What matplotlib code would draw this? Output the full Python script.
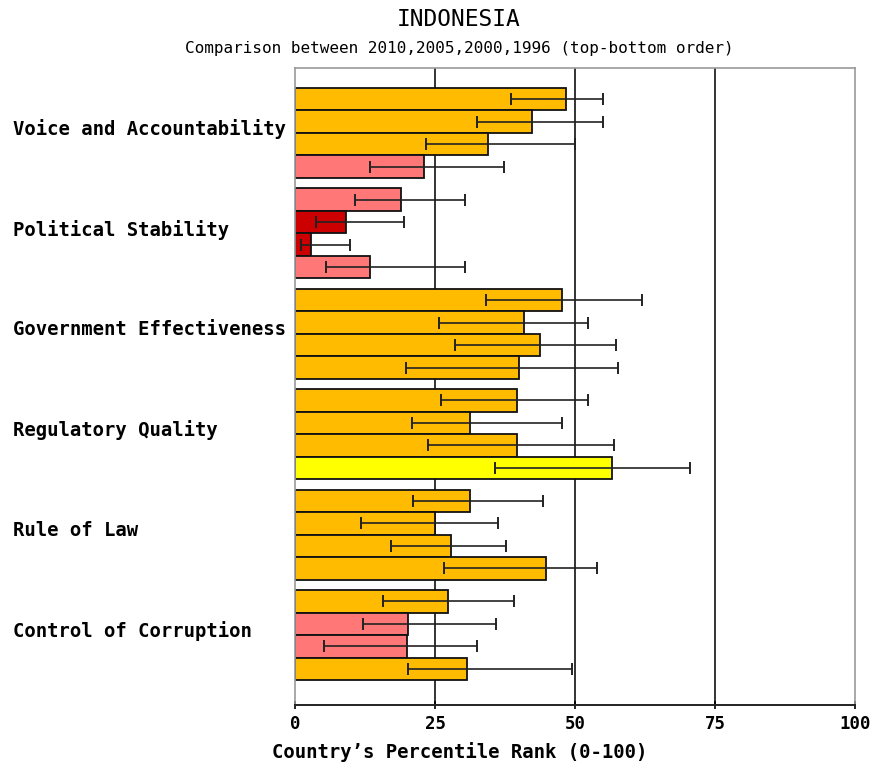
import numpy as np
import matplotlib.pyplot as plt
from matplotlib.transforms import blended_transform_factory

categories = ['Voice and Accountability', 'Political Stability',
              'Government Effectiveness', 'Regulatory Quality',
              'Rule of Law', 'Control of Corruption']
years = ['2010', '2005', '2000', '1996']

# percentile rank and its margin of error, per year (top-bottom order)
rank_2010 = [48.3, 18.8, 47.7, 39.6, 31.2, 27.2]
low_2010 = [38.5, 10.7, 34.1, 26.0, 21.1, 15.6]
high_2010 = [54.9, 30.4, 61.9, 52.3, 44.2, 39.1]

rank_2005 = [42.3, 9.0, 40.8, 31.2, 25.0, 20.2]
low_2005 = [32.4, 3.7, 25.7, 20.8, 11.8, 12.1]
high_2005 = [54.9, 19.4, 52.3, 47.7, 36.2, 35.9]

rank_2000 = [34.4, 2.85, 43.7, 39.6, 27.8, 19.9]
low_2000 = [23.4, 0.95, 28.6, 23.7, 17.1, 5.2]
high_2000 = [50.0, 9.8, 57.3, 57.0, 37.6, 32.4]

rank_1996 = [22.9, 13.3, 39.9, 56.6, 44.8, 30.7]
low_1996 = [13.3, 5.5, 19.7, 35.6, 26.6, 20.2]
high_1996 = [37.3, 30.4, 57.6, 70.6, 54.0, 49.5]

ranks = [rank_2010, rank_2005, rank_2000, rank_1996]
lows = [low_2010, low_2005, low_2000, low_1996]
highs = [high_2010, high_2005, high_2000, high_1996]


def rank_color(v):
    if v < 10:
        return '#cc0000'
    if v < 25:
        return '#ff7777'
    if v < 50:
        return '#ffbb00'
    if v < 75:
        return '#ffff00'
    return '#00cc00'


MONO = 'DejaVu Sans Mono'
bar_h = 0.224

fig = plt.figure(figsize=(8.74, 7.65), dpi=100)
ax = fig.add_axes([0.338, 0.0784, 0.640, 0.8327])

for j in range(len(years)):
    r = np.array(ranks[j])
    lo = np.array(lows[j])
    hi = np.array(highs[j])
    y = np.arange(len(categories)) + bar_h / 2 + j * bar_h
    ax.barh(y, r, height=bar_h, color=[rank_color(v) for v in r],
            edgecolor='#111111', linewidth=1.3, zorder=2)
    ax.errorbar(r, y, xerr=[r - lo, hi - r], fmt='none', ecolor='#222222',
                elinewidth=1.2, capsize=4, capthick=1.4, zorder=3)

for x in [25, 50, 75]:
    ax.axvline(x, color='#333333', linewidth=1.4, zorder=1)

ax.set_xlim(0, 100)
ax.set_ylim(6.145, -0.199)
ax.set_yticks([])
ax.set_xticks([0, 25, 50, 75, 100])
ax.tick_params(axis='x', direction='inout', length=6, width=1.2, pad=4)
for lab in ax.get_xticklabels():
    lab.set_fontfamily(MONO)
    lab.set_fontweight('bold')
    lab.set_fontsize(12.5)

for side in ['top', 'right', 'left']:
    ax.spines[side].set_color('#999999')
    ax.spines[side].set_linewidth(1.2)
ax.spines['bottom'].set_color('#222222')
ax.spines['bottom'].set_linewidth(1.4)

trans = blended_transform_factory(fig.transFigure, ax.transData)
for i, name in enumerate(categories):
    ax.text(13 / 874, i + 0.41, name, transform=trans, ha='left', va='center',
            fontfamily=MONO, fontweight='bold', fontsize=13.6)

fig.text(272 / 874, 1 - 752 / 765, "Country\u2019s Percentile Rank (0-100)",
         ha='left', va='center', fontfamily=MONO, fontweight='bold',
         fontsize=13.6)

fig.text(0.525, 1 - 19 / 765, 'INDONESIA', ha='center', va='center',
         fontfamily=MONO, fontsize=16.5)
fig.text(0.525, 1 - 49 / 765,
         'Comparison between 2010,2005,2000,1996 (top-bottom order)',
         ha='center', va='center', fontfamily=MONO, fontsize=11.5)

fig.savefig('out.png', dpi=100)
